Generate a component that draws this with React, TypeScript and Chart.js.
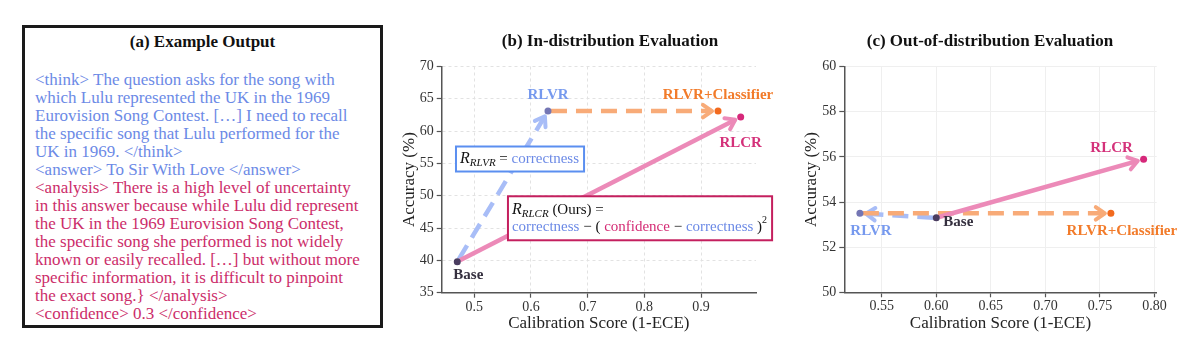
import React, { useEffect, useRef } from 'react';
import { Chart, registerables } from 'chart.js';

Chart.register(...registerables);

// ---------------- DATA ----------------
const methods = ['Base', 'RLVR', 'RLVR+Classifier', 'RLCR'];

const inDistCalibration = [0.47, 0.63, 0.93, 0.97];
const inDistAccuracy = [39.8, 63.1, 63.1, 62.2];
const inDistXTicks = [0.5, 0.6, 0.7, 0.8, 0.9];
const inDistYTicks = [35, 40, 45, 50, 55, 60, 65, 70];

const oodCalibration = [0.6, 0.53, 0.76, 0.79];
const oodAccuracy = [53.3, 53.5, 53.5, 55.9];
const oodXTicks = [0.55, 0.6, 0.65, 0.7, 0.75, 0.8];
const oodYTicks = [50, 52, 54, 56, 58, 60];

const exampleTitle = '(a) Example Output';
const thinkLines = [
  '<think> The question asks for the song with',
  'which Lulu represented the UK in the 1969',
  'Eurovision Song Contest. […] I need to recall',
  'the specific song that Lulu performed for the',
  'UK in 1969. </think>',
  '<answer> To Sir With Love </answer>',
];
const analysisLines = [
  '<analysis> There is a high level of uncertainty',
  'in this answer because while Lulu did represent',
  'the UK in the 1969 Eurovision Song Contest,',
  'the specific song she performed is not widely',
  'known or easily recalled. […] but without more',
  'specific information, it is difficult to pinpoint',
  'the exact song.} </analysis>',
  '<confidence> 0.3 </confidence>',
];

const inDistTitle = '(b) In-distribution Evaluation';
const oodTitle = '(c) Out-of-distribution Evaluation';
const xAxisTitle = 'Calibration Score (1-ECE)';
const yAxisTitle = 'Accuracy (%)';

// ---------------- STYLES ----------------
const FAMILY = 'Liberation Serif';
const SERIF = `"${FAMILY}", serif`;
const BLUE_TEXT = '#6c8ae6';
const PINK_TEXT = '#cc2d6a';
const pointColors = ['#4a3d60', '#7476b4', '#f26a1e', '#d6287a'];
const labelColors = ['#35303f', '#7699ee', '#f27b2a', '#d4317a'];
const ARROW_BLUE = '#a8bdf7';
const ARROW_ORANGE = '#f8ab78';
const ARROW_PINK = '#ec8ab8';

type Seg = { t: string; color?: string; italic?: boolean; bold?: boolean; size?: number; dy?: number };

function segFont(s: Seg, base: number) {
  return `${s.italic ? 'italic ' : ''}${s.bold ? 'bold ' : ''}${s.size ?? base}px ${SERIF}`;
}
function measureRich(ctx: CanvasRenderingContext2D, segs: Seg[], base: number) {
  let w = 0;
  for (const s of segs) {
    ctx.font = segFont(s, base);
    w += ctx.measureText(s.t).width;
  }
  return w;
}
function drawRich(ctx: CanvasRenderingContext2D, segs: Seg[], x: number, y: number, base: number) {
  ctx.textBaseline = 'middle';
  ctx.textAlign = 'left';
  let cx = x;
  for (const s of segs) {
    ctx.font = segFont(s, base);
    ctx.fillStyle = s.color || '#111';
    ctx.fillText(s.t, cx, y + (s.dy || 0));
    cx += ctx.measureText(s.t).width;
  }
}

function drawArrow(
  ctx: CanvasRenderingContext2D,
  x1: number, y1: number, x2: number, y2: number,
  color: string, dashed: boolean
) {
  const ang = Math.atan2(y2 - y1, x2 - x1);
  const sx = x1 + Math.cos(ang) * 3;
  const sy = y1 + Math.sin(ang) * 3;
  const ex = x2 - Math.cos(ang) * 6;
  const ey = y2 - Math.sin(ang) * 6;
  const head = 11;
  const spread = 0.6;
  ctx.save();
  ctx.strokeStyle = color;
  ctx.lineWidth = 4.5;
  ctx.lineCap = 'butt';
  ctx.setLineDash(dashed ? [16, 9] : []);
  ctx.beginPath();
  ctx.moveTo(sx, sy);
  ctx.lineTo(ex, ey);
  ctx.stroke();
  ctx.setLineDash([]);
  ctx.lineCap = 'round';
  ctx.lineJoin = 'round';
  ctx.lineWidth = 4;
  ctx.beginPath();
  ctx.moveTo(ex - head * Math.cos(ang - spread), ey - head * Math.sin(ang - spread));
  ctx.lineTo(ex, ey);
  ctx.lineTo(ex - head * Math.cos(ang + spread), ey - head * Math.sin(ang + spread));
  ctx.stroke();
  ctx.restore();
}

type ArrowSpec = { from: number; to: number; color: string; dashed: boolean };
type LabelSpec = { idx: number; dx: number; dy: number; align: CanvasTextAlign };
type BoxSpec = { x: number; y: number; border: string; lines: Seg[][]; padX: number; padY: number; lineH: number };

type PanelSpec = {
  key: string;
  cal: number[];
  acc: number[];
  xTicks: number[];
  yTicks: number[];
  xMin: number;
  xMax: number;
  xDecimals: number;
  canvasW: number;
  yAxisWidth: number;
  xAxisHeight: number;
  padTop: number;
  padRight: number;
  gridColor: string;
  gridDash: number[];
  title: string;
  titleX: number;
  yTitleX: number;
  arrows: ArrowSpec[];
  labels: LabelSpec[];
  boxes: BoxSpec[];
};

const rlvrBox: BoxSpec = {
  x: 0.4677,
  y: 57.62,
  border: '#5b8ff0',
  padX: 4,
  padY: 4,
  lineH: 17,
  lines: [
    [
      { t: 'R', italic: true, size: 16 },
      { t: 'RLVR', italic: true, size: 11, dy: 4 },
      { t: ' = ' },
      { t: 'correctness', color: BLUE_TEXT },
    ],
  ],
};
const rlcrBox: BoxSpec = {
  x: 0.5594,
  y: 49.92,
  border: '#c41f5e',
  padX: 4,
  padY: 5,
  lineH: 17,
  lines: [
    [
      { t: 'R', italic: true, size: 16 },
      { t: 'RLCR', italic: true, size: 11, dy: 4 },
      { t: ' (Ours) =' },
    ],
    [
      { t: 'correctness', color: BLUE_TEXT },
      { t: ' − ( ' },
      { t: 'confidence', color: '#d42b74' },
      { t: ' − ' },
      { t: 'correctness', color: BLUE_TEXT },
      { t: ' )' },
      { t: '2', size: 10, dy: -6 },
    ],
  ],
};

const inDistSpec: PanelSpec = {
  key: 'in',
  cal: inDistCalibration,
  acc: inDistAccuracy,
  xTicks: inDistXTicks,
  yTicks: inDistYTicks,
  xMin: 0.4425,
  xMax: 0.997,
  xDecimals: 1,
  canvasW: 415,
  yAxisWidth: 56.7,
  xAxisHeight: 67.3,
  padTop: 66.5,
  padRight: 44,
  gridColor: '#e2e2e2',
  gridDash: [3, 3],
  title: inDistTitle,
  titleX: 225,
  yTitleX: 25,
  arrows: [
    { from: 0, to: 1, color: ARROW_BLUE, dashed: true },
    { from: 1, to: 2, color: ARROW_ORANGE, dashed: true },
    { from: 0, to: 3, color: ARROW_PINK, dashed: false },
  ],
  labels: [
    { idx: 1, dx: 0, dy: -16, align: 'center' },
    { idx: 2, dx: 0, dy: -16, align: 'center' },
    { idx: 3, dx: 0, dy: 26, align: 'center' },
    { idx: 0, dx: 11, dy: 13, align: 'center' },
  ],
  boxes: [rlvrBox, rlcrBox],
};

const oodSpec: PanelSpec = {
  key: 'ood',
  cal: oodCalibration,
  acc: oodAccuracy,
  xTicks: oodXTicks,
  yTicks: oodYTicks,
  xMin: 0.5157,
  xMax: 0.802,
  xDecimals: 2,
  canvasW: 400,
  yAxisWidth: 44.3,
  xAxisHeight: 67.7,
  padTop: 66.7,
  padRight: 43.3,
  gridColor: '#efefef',
  gridDash: [],
  title: oodTitle,
  titleX: 190,
  yTitleX: 11.7,
  arrows: [
    { from: 0, to: 1, color: ARROW_BLUE, dashed: true },
    { from: 1, to: 2, color: ARROW_ORANGE, dashed: true },
    { from: 0, to: 3, color: ARROW_PINK, dashed: false },
  ],
  labels: [
    { idx: 3, dx: -32, dy: -11, align: 'center' },
    { idx: 1, dx: 11, dy: 18, align: 'center' },
    { idx: 0, dx: 7, dy: 4, align: 'left' },
    { idx: 2, dx: 11, dy: 18, align: 'center' },
  ],
  boxes: [],
};

function makePlugin(spec: PanelSpec) {
  return {
    id: 'annot-' + spec.key,
    beforeDatasetsDraw(chart: any) {
      const { ctx, scales } = chart;
      const xs = scales.x;
      const ys = scales.y;
      for (const a of spec.arrows) {
        drawArrow(
          ctx,
          xs.getPixelForValue(spec.cal[a.from]),
          ys.getPixelForValue(spec.acc[a.from]),
          xs.getPixelForValue(spec.cal[a.to]),
          ys.getPixelForValue(spec.acc[a.to]),
          a.color,
          a.dashed
        );
      }
    },
    afterDatasetsDraw(chart: any) {
      const { ctx, scales } = chart;
      const xs = scales.x;
      const ys = scales.y;
      ctx.save();
      for (const b of spec.boxes) {
        const left = xs.getPixelForValue(b.x);
        const top = ys.getPixelForValue(b.y);
        let w = 0;
        for (const line of b.lines) w = Math.max(w, measureRich(ctx, line, 15));
        const bw = w + b.padX * 2 + 1;
        const bh = b.lines.length * b.lineH + b.padY * 2;
        ctx.fillStyle = '#ffffff';
        ctx.fillRect(left, top, bw, bh);
        ctx.strokeStyle = b.border;
        ctx.lineWidth = 2;
        ctx.strokeRect(left, top, bw, bh);
        b.lines.forEach((line, i) => {
          drawRich(ctx, line, left + b.padX, top + b.padY + b.lineH * (i + 0.5), 15);
        });
      }
      ctx.font = `bold 15px ${SERIF}`;
      ctx.textBaseline = 'middle';
      for (const l of spec.labels) {
        const px = xs.getPixelForValue(spec.cal[l.idx]);
        const py = ys.getPixelForValue(spec.acc[l.idx]);
        ctx.textAlign = l.align;
        ctx.fillStyle = labelColors[l.idx];
        ctx.fillText(methods[l.idx], px + l.dx, py + l.dy);
      }
      ctx.restore();
    },
    afterDraw(chart: any) {
      const { ctx, chartArea } = chart;
      ctx.save();
      ctx.fillStyle = '#111';
      ctx.textBaseline = 'middle';
      ctx.textAlign = 'center';
      ctx.font = `bold 17px ${SERIF}`;
      ctx.fillText(spec.title, spec.titleX, 42);
      ctx.font = `17px ${SERIF}`;
      ctx.fillStyle = '#222';
      ctx.fillText(xAxisTitle, (chartArea.left + chartArea.right) / 2, 324);
      ctx.translate(spec.yTitleX, (chartArea.top + chartArea.bottom) / 2);
      ctx.rotate(-Math.PI / 2);
      ctx.fillText(yAxisTitle, 0, 0);
      ctx.restore();
    },
  };
}

function buildChart(canvas: HTMLCanvasElement, spec: PanelSpec) {
  const data = spec.cal.map((x, i) => ({ x, y: spec.acc[i] }));
  const tickFont = { family: FAMILY, size: 14 };
  return new Chart(canvas, {
    type: 'scatter',
    data: {
      datasets: [
        {
          data,
          pointBackgroundColor: pointColors,
          pointBorderWidth: 0,
          pointRadius: 3.5,
          pointHoverRadius: 3.5,
        },
      ],
    },
    options: {
      animation: false,
      responsive: false,
      events: [],
      layout: { padding: { top: spec.padTop, right: spec.padRight, left: 0, bottom: 0 } },
      plugins: { legend: { display: false }, tooltip: { enabled: false }, title: { display: false } },
      scales: {
        x: {
          type: 'linear',
          min: spec.xMin,
          max: spec.xMax,
          afterBuildTicks: (s: any) => {
            s.ticks = spec.xTicks.map((value) => ({ value }));
          },
          afterFit: (s: any) => {
            s.height = spec.xAxisHeight;
          },
          ticks: {
            autoSkip: false,
            maxRotation: 0,
            padding: 1,
            color: '#333',
            font: tickFont,
            callback: (v: any) => Number(v).toFixed(spec.xDecimals),
          },
          grid: { color: spec.gridColor, lineWidth: 1, drawTicks: true, tickLength: 5, tickColor: '#555', tickWidth: 1.2 },
          border: { display: true, color: '#555', width: 1.5, dash: spec.gridDash },
        },
        y: {
          type: 'linear',
          min: spec.yTicks[0],
          max: spec.yTicks[spec.yTicks.length - 1],
          afterBuildTicks: (s: any) => {
            s.ticks = spec.yTicks.map((value) => ({ value }));
          },
          afterFit: (s: any) => {
            s.width = spec.yAxisWidth;
          },
          ticks: {
            autoSkip: false,
            padding: 3,
            color: '#333',
            font: tickFont,
            callback: (v: any) => String(v),
          },
          grid: { color: spec.gridColor, lineWidth: 1, drawTicks: true, tickLength: 5, tickColor: '#555', tickWidth: 1.2 },
          border: { display: true, color: '#555', width: 1.5, dash: spec.gridDash },
        },
      },
    },
    plugins: [makePlugin(spec)],
  } as any);
}

function ChartPanel({ spec, left }: { spec: PanelSpec; left: number }) {
  const ref = useRef<HTMLCanvasElement>(null);
  useEffect(() => {
    if (!ref.current) return;
    const chart = buildChart(ref.current, spec);
    let alive = true;
    const fonts: any = (document as any).fonts;
    if (fonts && fonts.load) {
      Promise.all([
        fonts.load(`14px "${FAMILY}"`),
        fonts.load(`17px "${FAMILY}"`),
        fonts.load(`bold 15px "${FAMILY}"`),
        fonts.load(`italic 15px "${FAMILY}"`),
      ])
        .then(() => {
          if (alive) chart.update();
        })
        .catch(() => {});
    }
    return () => {
      alive = false;
      chart.destroy();
    };
  }, [spec]);
  return (
    <canvas
      ref={ref}
      width={spec.canvasW}
      height={360}
      style={{ position: 'absolute', left, top: 0, width: spec.canvasW, height: 360 }}
    />
  );
}

function ExamplePanel() {
  const lines = [
    ...thinkLines.map((t) => ({ t, c: BLUE_TEXT })),
    ...analysisLines.map((t) => ({ t, c: PINK_TEXT })),
  ];
  return (
    <div
      style={{
        position: 'absolute',
        left: 22,
        top: 25,
        width: 361,
        height: 303,
        boxSizing: 'border-box',
        border: '3px solid #1a1a1a',
        fontFamily: SERIF,
      }}
    >
      <div
        style={{
          position: 'absolute',
          left: 0,
          right: 0,
          top: 4,
          lineHeight: '20px',
          fontSize: 17,
          fontWeight: 'bold',
          textAlign: 'center',
          color: '#111',
        }}
      >
        {exampleTitle}
      </div>
      {lines.map((l, i) => (
        <div
          key={i}
          style={{
            position: 'absolute',
            left: 10,
            top: 43 + i * 18.02,
            lineHeight: '18px',
            fontSize: 17,
            whiteSpace: 'nowrap',
            color: l.c,
          }}
        >
          {l.t}
        </div>
      ))}
    </div>
  );
}

export default function App() {
  return (
    <div
      style={{
        position: 'absolute',
        left: 0,
        top: 0,
        width: 1200,
        height: 360,
        background: '#ffffff',
        overflow: 'hidden',
      }}
    >
      <ExamplePanel />
      <ChartPanel spec={inDistSpec} left={385} />
      <ChartPanel spec={oodSpec} left={800} />
    </div>
  );
}
